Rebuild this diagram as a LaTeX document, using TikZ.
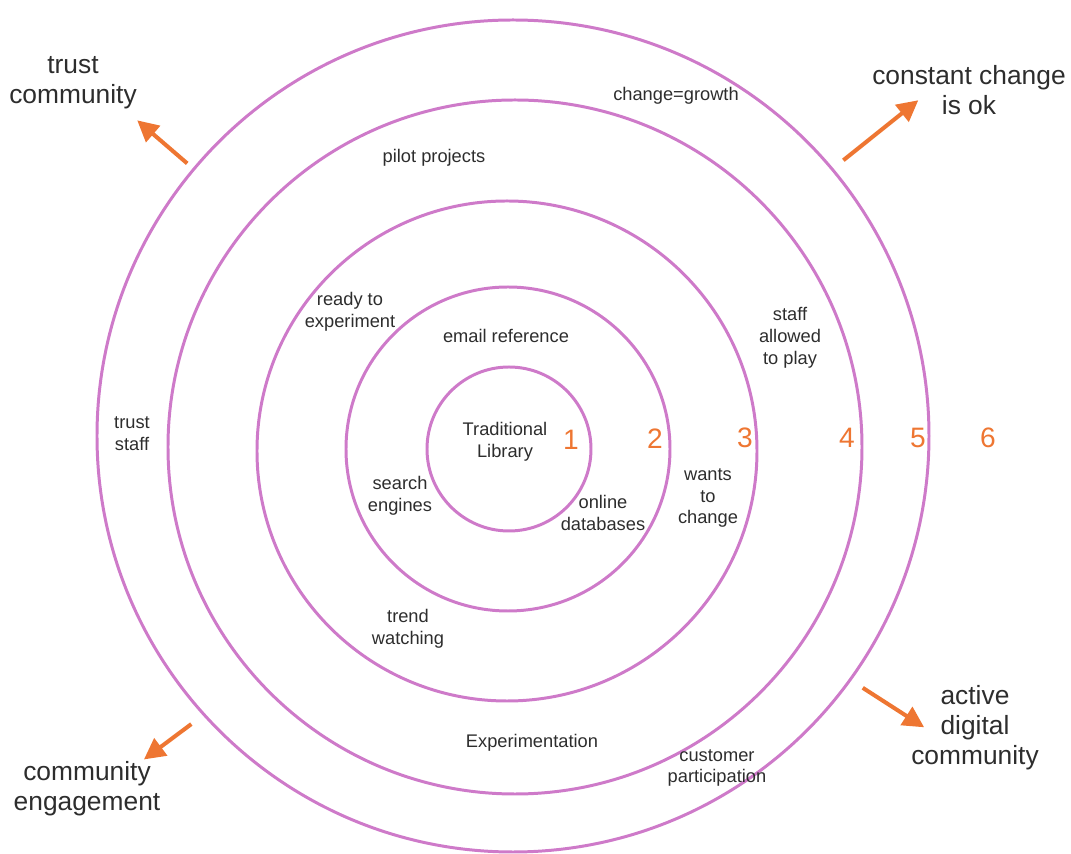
\documentclass[tikz,border=0pt]{standalone}
\usepackage{fontspec}
\setmainfont{Liberation Sans}
\usepackage{tikz}
\usetikzlibrary{arrows.meta}
\definecolor{ringpink}{RGB}{206,122,201}
\definecolor{numorange}{RGB}{238,118,50}
\definecolor{textgray}{RGB}{45,45,45}
\tikzstyle{ring}=[circle,draw=ringpink,line width=1.7pt,inner sep=0pt]
\tikzstyle{note}=[text=textgray,align=center,inner sep=1pt,font=\fontsize{10.4}{12.5}\selectfont]
\tikzstyle{bignote}=[text=textgray,align=center,inner sep=1pt,font=\fontsize{15}{17}\selectfont]
\tikzstyle{level}=[text=numorange,inner sep=0pt,font=\fontsize{16}{18}\selectfont]
\tikzstyle{outarrow}=[draw=numorange,line width=2.3pt,-{Triangle[length=12pt,width=12pt]}]

\begin{document}
\begin{tikzpicture}[x=0.02cm,y=0.02cm]
    \useasboundingbox (-510,-405) rectangle (561,449);

    % Draw the rings, from the inside out
    \foreach \pos/\r/\name in {{(-1,0)/82/ring1}, {(-2,0)/162/ring2}, {(-3,-2)/250/ring3},
                               {(5,2)/347/ring4}, {(3,13)/416/ring5}}
        \node[ring, minimum size=2*\r*0.02cm] (\name) at \pos {};

    % Ring numbers along the horizontal axis
    \foreach \pos/\name/\label in {{(61,9)/lvl1/1}, {(145,10)/lvl2/2}, {(235,11)/lvl3/3},
                                   {(337,11)/lvl4/4}, {(408,11)/lvl5/5}, {(478,11)/lvl6/6}}
        \node[level] (\name) at \pos {\label};

    % Texts in the rings
    \foreach \pos/\name/\label in {{(-5,7)/trad/Traditional\\Library},
                                   {(-4,113)/email/email reference},
                                   {(-110,-47)/search/search\\engines},
                                   {(93,-64)/online/online\\databases},
                                   {(-160,137)/ready/ready to\\experiment},
                                   {(198,-49)/wants/wants\\to\\change},
                                   {(-102,-180)/trend/trend\\watching},
                                   {(-76,291)/pilot/pilot projects},
                                   {(280,111)/play/staff\\allowed\\to play},
                                   {(22,-294)/exper/Experimentation},
                                   {(166,353)/growth/change=growth},
                                   {(-378,15)/tstaff/trust\\staff},
                                   {(207,-319)/cust/customer\\participation}}
        \node[note] (\name) at \pos {\label};

    % Labels outside the rings
    \node[bignote] (tcomm) at (-437,366) {trust\\community};
    \node[bignote] (okay) at (459,359) {constant change\\is ok};
    \node[bignote] (engage) at (-423,-340) {community\\engagement};
    \node[bignote] (active) at (465,-279) {active\\digital\\community};

    % Arrows pointing away from the outer ring
    \coordinate (tc-from) at (138.5:431);
    \coordinate (tc-to) at (138.6:497);
    \coordinate (ok-from) at (40.9:441);
    \coordinate (ok-to) at (40.5:537);
    \coordinate (ce-from) at (220.8:421);
    \coordinate (ce-to) at (220.3:480);
    \coordinate (ad-from) at (-34.1:426);
    \coordinate (ad-to) at (-33.9:499);
    \foreach \source/\dest in {tc-from/tc-to, ok-from/ok-to, ce-from/ce-to, ad-from/ad-to}
        \path[outarrow] (\source) -- (\dest);

\end{tikzpicture}
\end{document}
